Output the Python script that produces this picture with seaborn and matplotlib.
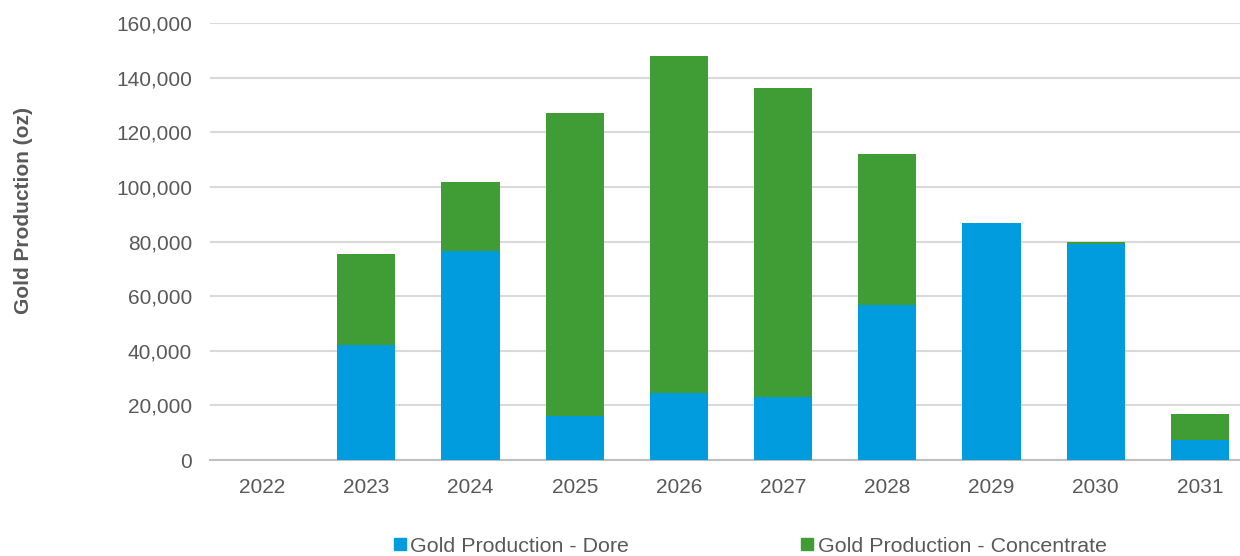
import numpy as np
import pandas as pd
import seaborn as sns
import matplotlib.pyplot as plt
from matplotlib.lines import Line2D
from matplotlib.ticker import FuncFormatter

# ----------------------
# Data
# ----------------------
years = ['2022', '2023', '2024', '2025', '2026', '2027', '2028', '2029', '2030', '2031']
dore = [0, 42100, 76600, 16100, 24500, 23100, 56700, 86800, 79100, 7300]
concentrate = [0, 33300, 25200, 111000, 123400, 113100, 55300, 0, 700, 9500]

blue = '#009CDE'
green = '#409C35'
grey_text = '#595959'

df = pd.DataFrame({'year': years, 'dore': dore, 'concentrate': concentrate})
df['total'] = df['dore'] + df['concentrate']

# ----------------------
# Plot
# ----------------------
sns.set_style('white')
plt.rcParams['font.family'] = ['Liberation Sans', 'DejaVu Sans']

fig = plt.figure(figsize=(12.4, 5.56), dpi=100)
ax = fig.add_axes([210 / 1240, 96 / 556, 1042 / 1240, 437 / 556])

# green = total height, blue (dore) drawn over it -> stacked look
sns.barplot(data=df, x='year', y='total', color=green, width=0.56,
            saturation=1, linewidth=0, ax=ax, zorder=3)
sns.barplot(data=df, x='year', y='dore', color=blue, width=0.56,
            saturation=1, linewidth=0, ax=ax, zorder=4)

ax.set_ylim(0, 160000)
ax.set_xlim(-0.5, 9.5)
ax.set_yticks(np.arange(0, 160001, 20000))
ax.yaxis.set_major_formatter(FuncFormatter(lambda v, p: f'{int(v):,}'))
ax.grid(axis='y', color='#D9D9D9', linewidth=1.5, zorder=0)
ax.set_axisbelow(True)

for side in ['top', 'right', 'left']:
    ax.spines[side].set_visible(False)
ax.spines['bottom'].set_color('#BFBFBF')
ax.spines['bottom'].set_linewidth(1.5)

ax.tick_params(axis='both', length=0, labelsize=15, labelcolor=grey_text)
ax.tick_params(axis='y', pad=13)
ax.tick_params(axis='x', pad=13)

ax.set_xlabel('')
ax.set_ylabel('Gold Production (oz)', fontsize=15, fontweight='bold',
              color=grey_text, labelpad=0)
ax.yaxis.set_label_coords(-177 / 1042, 0.57)

handles = [
    Line2D([], [], marker='s', linestyle='', markersize=9, color=blue),
    Line2D([], [], marker='s', linestyle='', markersize=9, color=green),
]
fig.legend(handles, ['Gold Production - Dore', 'Gold Production - Concentrate'],
           loc='center', bbox_to_anchor=(748 / 1240, 1 - 546 / 556), ncol=2,
           frameon=False, fontsize=15.4, labelcolor=grey_text,
           handletextpad=0.0, columnspacing=7.82, handlelength=1.0)

plt.savefig('out.png', dpi=100)
plt.close()
